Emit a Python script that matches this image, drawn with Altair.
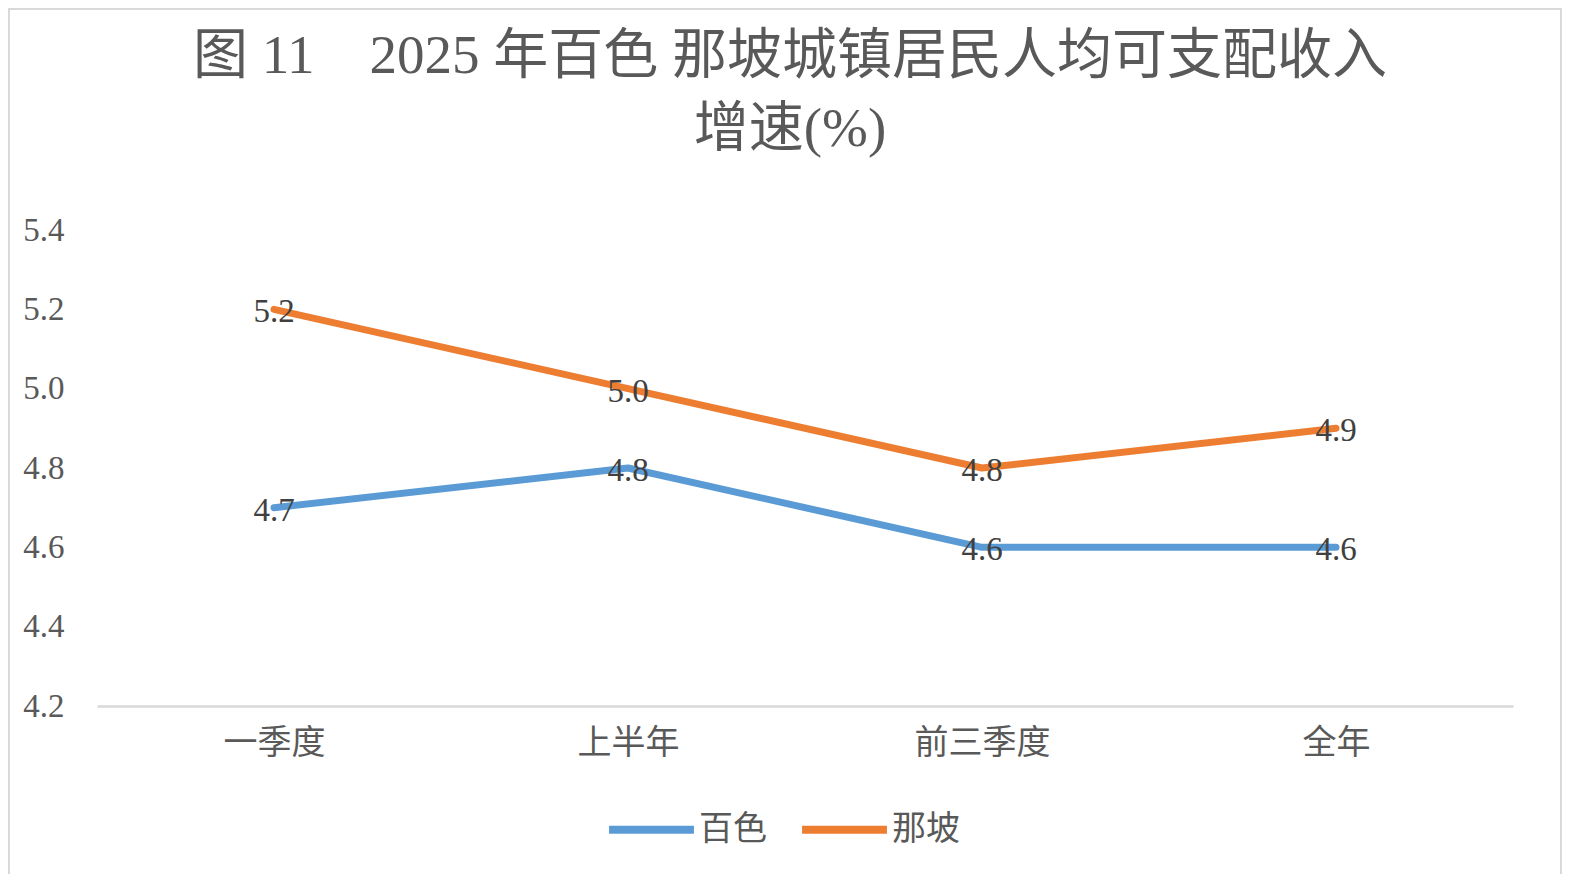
import altair as alt
import pandas as pd

categories = ["一季度", "上半年", "前三季度", "全年"]
baise = [4.7, 4.8, 4.6, 4.6]
napo = [5.2, 5.0, 4.8, 4.9]
series_names = ["百色", "那坡"]
series_colors = ["#5B9BD5", "#ED7D31"]
y_ticks = [4.2, 4.4, 4.6, 4.8, 5.0, 5.2, 5.4]
title_lines = ["图\u00a011\u30002025\u00a0年百色\u00a0那坡城镇居民人均可支配收入", "增速(%)"]

rows = []
for name, vals in zip(series_names, [baise, napo]):
    for c, v in zip(categories, vals):
        rows.append({"季度": c, "系列": name, "值": v})
df = pd.DataFrame(rows)

FONT = "Liberation Serif, Noto Sans CJK SC"
CJK = "Liberation Serif, Noto Sans CJK SC"

x_enc = alt.X("季度:N", sort=categories,
              scale=alt.Scale(type="point", padding=0.5),
              axis=alt.Axis(title=None, labelAngle=0, ticks=False, domainColor="#D9D9D9",
                            domainWidth=2.5, labelFont=CJK, labelFontSize=34,
                            labelColor="#595959", labelPadding=20, grid=False))
y_enc = alt.Y("值:Q", scale=alt.Scale(domain=[4.2, 5.4], nice=False, zero=False),
              axis=alt.Axis(title=None, values=y_ticks, format=".1f", domain=False, ticks=False,
                            grid=False, labelFont=FONT, labelFontSize=33, labelColor="#595959",
                            labelPadding=33))

base = alt.Chart(df)

lines = base.mark_line(strokeWidth=7, strokeCap="round", strokeJoin="round").encode(
    x=x_enc,
    y=y_enc,
    color=alt.Color("系列:N", sort=series_names,
                    scale=alt.Scale(domain=series_names, range=series_colors),
                    legend=alt.Legend(title=None, orient="none", direction="horizontal",
                                      legendX=508, legendY=553, symbolType="stroke",
                                      symbolSize=7200, symbolStrokeWidth=8,
                                      labelFont=CJK, labelFontSize=34, labelColor="#595959",
                                      labelOffset=1, columnPadding=19)),
)

labels = base.mark_text(font=FONT, fontSize=33, color="#404040", baseline="middle",
                        align="center", dy=3).encode(
    x=alt.X("季度:N", sort=categories),
    y="值:Q",
    text=alt.Text("值:Q", format=".1f"),
)

frame = alt.Chart(alt.Data(values=[{"a": 1}])).mark_rect(
    filled=False, stroke="#D9D9D9", strokeWidth=2
).encode(x=alt.value(-88), x2=alt.value(1464), y=alt.value(-221), y2=alt.value(647))

chart = alt.layer(frame, lines, labels).properties(
    width=1416,
    height=476,
    padding={"left": 89, "top": 222, "right": 51, "bottom": 168},
    autosize=alt.AutoSizeParams(type="none"),
    background="white",
    title=alt.TitleParams(text=title_lines, font=CJK, fontSize=55, fontWeight="normal",
                          color="#595959", lineHeight=73, offset=-150, dx=-15, anchor="middle"),
).configure_view(stroke=None)

chart.save("out.html", embed_options={"renderer": "svg", "actions": False})
